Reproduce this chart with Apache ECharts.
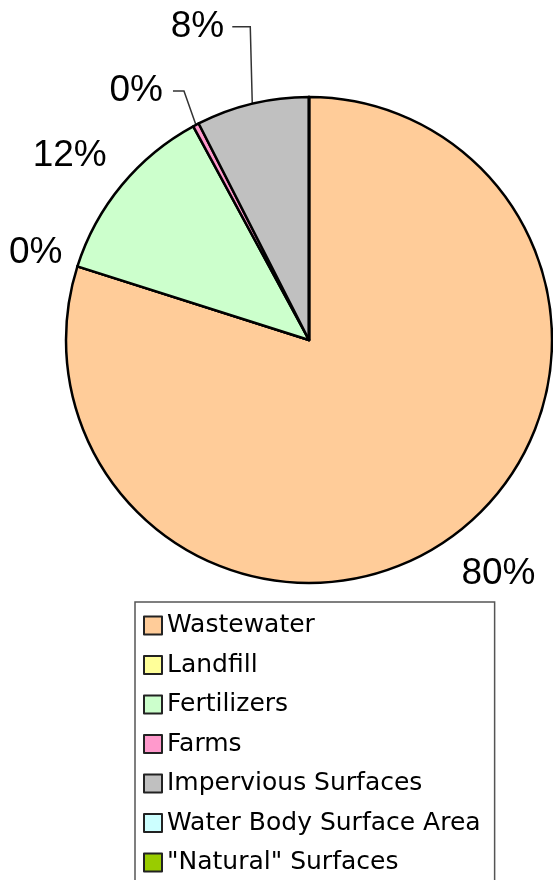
<!DOCTYPE html>
<html>
<head>
<meta charset="utf-8">
<script src="https://cdn.jsdelivr.net/npm/echarts@6/dist/echarts.min.js"></script>
<style>
html,body{margin:0;padding:0;background:#fff;}
#c{width:553px;height:880px;}
</style>
</head>
<body>
<div id="c"></div>
<script>
// ---- data ----
var categories = ['Wastewater', 'Landfill', 'Fertilizers', 'Farms', 'Impervious Surfaces', 'Water Body Surface Area', '"Natural" Surfaces'];
var values = [79.9, 0, 12.2, 0.4, 7.5, 0, 0];
var showLabel = [true, true, true, true, true, false, false];
var hasLeader = [false, false, false, true, true, false, false];

// ---- styles ----
var colors = ['#FFCC99', '#FFFF99', '#CCFFCC', '#FF99CC', '#C0C0C0', '#CCFFFF', '#99CC00'];
// label offsets relative to slice rim (plain labels) / leader line geometry
var plainOffsets = {0: {dx: 4, dy: 38}, 1: {dx: -10, dy: -14}, 2: {dx: -10, dy: -29}};
var leaderGeom = {
  3: {up: 34, side: -12, run: 11, gap: 10},
  4: {up: 77, side: -2, run: 18, gap: 8}
};

var chart = echarts.init(document.getElementById('c'), null, {renderer: 'canvas'});

var seriesData = categories.map(function (name, i) {
  return {
    name: name,
    value: values[i],
    itemStyle: {color: colors[i]},
    label: {show: showLabel[i]},
    labelLine: {show: hasLeader[i], length: 0, length2: 0}
  };
});

chart.setOption({
  animation: false,
  legend: {
    orient: 'vertical',
    left: 135,
    top: 602,
    height: 400,
    padding: [11, 14, 30, 8],
    itemGap: 14.5,
    itemWidth: 18,
    itemHeight: 18,
    icon: 'rect',
    borderColor: '#555',
    borderWidth: 1.5,
    selectedMode: false,
    itemStyle: {borderColor: '#222', borderWidth: 2},
    textStyle: {fontFamily: 'DejaVu Sans', fontSize: 25, color: '#000', lineHeight: 22},
    data: categories
  },
  series: [{
    type: 'pie',
    center: [309, 340],
    radius: 243,
    startAngle: 90,
    clockwise: true,
    avoidLabelOverlap: false,
    percentPrecision: 0,
    silent: true,
    itemStyle: {borderColor: '#000', borderWidth: 2.5},
    label: {
      position: 'outside',
      formatter: '{d}%',
      fontFamily: 'Liberation Sans',
      fontSize: 37,
      color: '#000',
      distanceToLabelLine: 5
    },
    labelLine: {lineStyle: {color: '#333', width: 1.5}},
    labelLayout: function (p) {
      var i = p.dataIndex;
      if (leaderGeom[i] && p.labelLinePoints) {
        var g = leaderGeom[i];
        var p1 = p.labelLinePoints[0];
        var p2 = [p1[0] + g.side, p1[1] - g.up];
        var p3 = [p2[0] - g.run, p2[1]];
        return {
          labelLinePoints: [p1, p2, p3],
          x: p3[0] - g.gap,
          y: p3[1],
          align: 'right',
          verticalAlign: 'middle'
        };
      }
      if (plainOffsets[i]) return plainOffsets[i];
      return {};
    },
    data: seriesData
  }]
});
</script>
</body>
</html>
